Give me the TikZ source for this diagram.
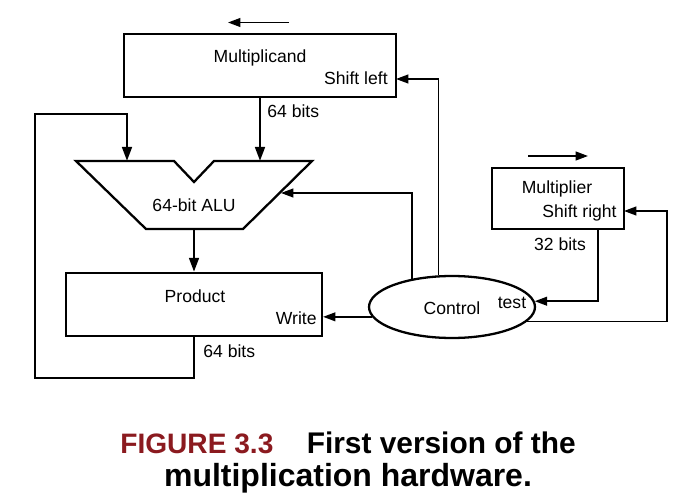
\documentclass[tikz,border=0pt]{standalone}
\usepackage{fontspec}
\setmainfont{Liberation Sans}
\usetikzlibrary{arrows.meta,calc,positioning,shapes.geometric}
\definecolor{FigRed}{HTML}{8B1A1F}

\begin{document}
\begin{tikzpicture}[
      x=0.02cm, y=-0.02cm,
      reg/.style={draw, line width=1.3pt, inner sep=0pt},
      lbl/.style={font=\fontsize{10}{12}\selectfont, inner sep=0pt},
      bus/.style={line width=1.5pt, -{Triangle[length=8pt,width=5.5pt]}},
      ctl/.style={line width=0.9pt, -{Triangle[length=7pt,width=5pt]}}
    ]
      \useasboundingbox (0,0) rectangle (700,500);

      \node[reg, minimum width=5.44cm, minimum height=1.26cm] (mcand) at (260,65.5) {};
      \node[lbl, anchor=base] (mcandtxt) at (260,63) {Multiplicand};
      \node[lbl, anchor=base east] (shl) at (388,85) {Shift left};
      \coordinate (mcand-in) at (396,79);
      \coordinate (shl-a) at (289,22.5);
      \coordinate (shl-b) at (228,22.5);
      \draw[ctl] (shl-a) -- (shl-b);

      \coordinate (alu-tl) at (76,161);
      \coordinate (alu-nl) at (174,161);
      \coordinate (alu-nb) at (194,182);
      \coordinate (alu-nr) at (214,161);
      \coordinate (alu-tr) at (312,161);
      \coordinate (alu-br) at (243,229);
      \coordinate (alu-bl) at (146,229);
      \coordinate (alu-a) at (127,161);
      \coordinate (alu-b) at (260,161);
      \coordinate (alu-c) at (281,193);
      \coordinate (alu-out) at (194,229);
      \draw[line width=1.3pt, line join=miter] (alu-tl) -- (alu-nl) -- (alu-nb) -- (alu-nr)
        -- (alu-tr) -- (alu-br) -- (alu-bl) -- cycle;
      \node[lbl, anchor=base] (alutxt) at (194,212) {64-bit ALU};

      \node[reg, minimum width=5.12cm, minimum height=1.26cm] (prod) at (194,304.5) {};
      \node[lbl, anchor=base] (prodtxt) at (195,302) {Product};
      \node[lbl, anchor=base east] (wr) at (317,324) {Write};

      \node[reg, minimum width=2.64cm, minimum height=1.22cm] (mplier) at (558,198.5) {};
      \node[lbl, anchor=base] (mpliertxt) at (557,194) {Multiplier};
      \node[lbl, anchor=base east] (shr) at (617,217) {Shift right};
      \coordinate (mp-in) at (624,211);
      \coordinate (mp-turn) at (667,211);
      \coordinate (mp-out) at (598,229);
      \coordinate (shr-a) at (528,156);
      \coordinate (shr-b) at (588,156);
      \draw[ctl] (shr-a) -- (shr-b);

      \node[reg, ellipse, minimum width=3.32cm, minimum height=1.24cm] (ctrl) at (452,307) {};
      \node[lbl, anchor=base] (ctrltxt) at (452,314) {Control};
      \node[lbl, anchor=base] (tst) at (512,308) {test};

      \draw[bus] (mcand.south -| alu-b) -- (alu-b);
      \node[lbl, anchor=base west] (bits1) at (267,118) {64 bits};
      \draw[bus] (alu-out) -- (prod.north);
      \coordinate (fb-low) at (35,378);
      \coordinate (fb-high) at (35,114);
      \draw[bus] (prod.south) |- (fb-low) -- (fb-high) -| (alu-a);
      \node[lbl, anchor=base west] (bits2) at (203,357) {64 bits};
      \node[lbl, anchor=base] (bits3) at (560,250) {32 bits};

      \draw[ctl] (ctrl.187) -- (ctrl.187 -| prod.east);
      \draw[ctl] (ctrl.145) |- (alu-c);
      \draw[ctl] (ctrl.113) |- (mcand-in);
      \draw[ctl] (mp-out) |- (ctrl.4);
      \draw[ctl] (ctrl.349) -| (mp-turn) -- (mp-in);

      \node[anchor=north, align=center, inner sep=0pt,
            font=\bfseries\fontsize{17}{18.5}\selectfont] (cap) at (348,432)
        {{\color{FigRed}\fontsize{16}{18.5}\selectfont FIGURE 3.3}\hspace{19pt}First version of the\\
         \fontsize{18.2}{18.5}\selectfont multiplication hardware.};
    \end{tikzpicture}
\end{document}
